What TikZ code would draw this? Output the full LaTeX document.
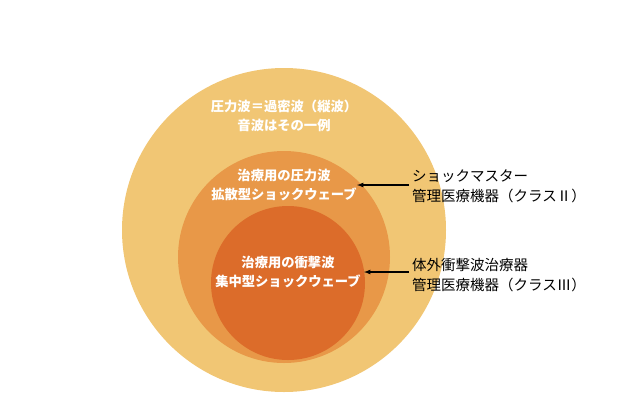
\documentclass[tikz,border=0pt]{standalone}
\usepackage{fontspec}
\setmainfont{Noto Sans CJK JP}
\begin{document}
\begin{tikzpicture}[x=1pt,y=-1pt,
  inlbl/.style={text=white,font=\bfseries\fontsize{13.3}{19}\selectfont,align=center},
  rlbl/.style={text=black,font=\fontsize{14.5}{20}\selectfont,align=left,anchor=west,inner sep=0pt},
  arr/.style={-latex,line width=1.2pt}]
\definecolor{cOut}{RGB}{241,198,116}
\definecolor{cMid}{RGB}{232,152,72}
\definecolor{cIn}{RGB}{220,108,42}
\useasboundingbox (0,0) rectangle (640,400);
\fill[cOut] (284,230) circle (162);
\fill[cMid] (284,257) circle (106);
\fill[cIn] (288,283) circle (77);
\node[inlbl] (t1) at (284,116) {圧力波＝過密波（縦波）\\音波はその一例};
\node[inlbl] (t2) at (284,185) {治療用の圧力波\\拡散型ショックウェーブ};
\node[inlbl] (t3) at (288,272) {治療用の衝撃波\\集中型ショックウェーブ};
\node[rlbl] (r1) at (412,186) {ショックマスター\\管理医療機器（クラスⅡ）};
\node[rlbl] (r2) at (412,275) {体外衝撃波治療器\\管理医療機器（クラスⅢ）};
\coordinate (a1) at (357,185);
\coordinate (a2) at (364,272);
\draw[arr] ([xshift=-3pt]r1.west |- a1) -- (a1);
\draw[arr] ([xshift=-3pt]r2.west |- a2) -- (a2);
\end{tikzpicture}
\end{document}
